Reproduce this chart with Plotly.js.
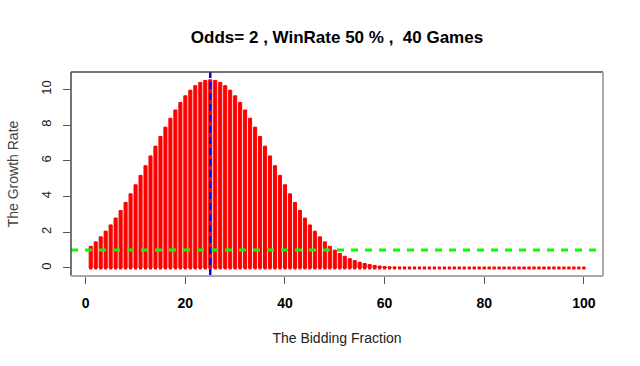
<!DOCTYPE html>
<html>
<head>
<meta charset="utf-8">
<script src="https://cdn.plot.ly/plotly-3.0.1.min.js"></script>
<style>html,body{margin:0;padding:0;background:#fff;}#chart{width:640px;height:366px;}</style>
</head>
<body>
<div id="chart"></div>
<script>
// Bidding fraction (%) values on the x axis
const fractions = [1,2,3,4,5,6,7,8,9,10,11,12,13,14,15,16,17,18,19,20,
  21,22,23,24,25,26,27,28,29,30,31,32,33,34,35,36,37,38,39,40,
  41,42,43,44,45,46,47,48,49,50,51,52,53,54,55,56,57,58,59,60,
  61,62,63,64,65,66,67,68,69,70,71,72,73,74,75,76,77,78,79,80,
  81,82,83,84,85,86,87,88,89,90,91,92,93,94,95,96,97,98,99,100];
// Growth rate
const growth = [1.2154,1.4628,1.7440,2.0601,2.4117,2.7984,3.2193,3.6721,4.1541,4.6610,
  5.1880,5.7293,6.2778,6.8264,7.3662,7.8899,8.3884,8.8524,9.2746,9.6463,
  9.9612,10.2127,10.3961,10.5075,10.5451,10.5075,10.3961,10.2127,9.9612,9.6463,
  9.2746,8.8524,8.3884,7.8899,7.3662,6.8264,6.2778,5.7293,5.1880,4.6610,
  4.1541,3.6721,3.2193,2.7984,2.4117,2.0601,1.7440,1.4628,1.2154,1.0000,
  0.8146,0.6568,0.5240,0.4134,0.3226,0.2487,0.1895,0.1426,0.1059,0.0776,
  0.0560,0.0399,0.0279,0.0193,0.0131,0.0087,0.0057,0.0036,0.0023,0.0014,
  0.0008,0.0005,0.0003,0.0002,0.0001,0,0,0,0,0,
  0,0,0,0,0,0,0,0,0,0,
  0,0,0,0,0,0,0,0,0,0];
const baseline = 1;       // green reference line
const bestFraction = 25;  // blue vertical line
const xTicks = [0,20,40,60,80,100];
const yTicks = [0,2,4,6,8,10];
const zeros = growth.map(() => 0);

const traces = [
  {
    type: 'bar', x: fractions, y: growth, width: 0.62,
    marker: {color: '#ff0000', line: {color: '#ff0000', width: 1}},
    hoverinfo: 'x+y', showlegend: false
  },
  {
    type: 'scatter', mode: 'markers', x: fractions, y: zeros,
    marker: {symbol: 'square', size: 3, color: '#ff0000', line: {width: 0}},
    hoverinfo: 'skip', showlegend: false
  }
];

const layout = {
  width: 640, height: 366,
  margin: {l: 71, r: 37, t: 72, b: 90, pad: 0},
  paper_bgcolor: '#ffffff', plot_bgcolor: '#ffffff',
  bargap: 0,
  font: {family: 'Liberation Sans, Arial, sans-serif', color: '#000'},
  title: {
    text: 'Odds= 2 , WinRate 50 % , \u00a040 Games',
    font: {size: 17, weight: 'bold', color: '#000'},
    x: 0.5, xref: 'paper', xanchor: 'center', y: 0.9, yref: 'container', yanchor: 'middle'
  },
  xaxis: {
    range: [-2.96, 103.85], tickvals: xTicks, ticktext: xTicks.map(String),
    showgrid: false, zeroline: false, showline: false,
    ticks: 'outside', ticklen: 7, tickwidth: 1, tickcolor: '#555',
    ticklabelstandoff: 7,
    tickfont: {size: 14, weight: 'bold', color: '#000'},
    title: {text: 'The Bidding Fraction', font: {size: 14, color: '#222'}, standoff: 23}
  },
  yaxis: {
    range: [-0.45, 10.98], tickvals: yTicks, ticktext: yTicks.map(String),
    showgrid: false, zeroline: false, showline: false,
    ticks: 'outside', ticklen: 7, tickwidth: 1, tickcolor: '#555',
    tickangle: -90, ticklabelstandoff: 7,
    tickfont: {size: 13, color: '#222'},
    title: {text: 'The Growth Rate', font: {size: 14, color: '#444'}, standoff: 16}
  },
  shapes: [
    {type: 'line', xref: 'paper', yref: 'y', x0: 0, x1: 1, y0: baseline, y1: baseline,
     line: {color: '#00ff00', width: 3, dash: '7px,7px'}, layer: 'above'},
    {type: 'line', xref: 'x', yref: 'paper', x0: bestFraction, x1: bestFraction, y0: 0, y1: 1,
     line: {color: '#0000ff', width: 2.5, dash: '7px,4px'}, layer: 'above'},
    {type: 'line', xref: 'paper', yref: 'paper', x0: 0, x1: 1, y0: 1, y1: 1,
     line: {color: '#444', width: 1.5}, layer: 'above'},
    {type: 'line', xref: 'paper', yref: 'paper', x0: 0, x1: 0, y0: 0, y1: 1,
     line: {color: '#444', width: 1.5}, layer: 'above'},
    {type: 'line', xref: 'paper', yref: 'paper', x0: 0, x1: 1, y0: 0, y1: 0,
     line: {color: '#aaa', width: 2}, layer: 'above'},
    {type: 'line', xref: 'paper', yref: 'paper', x0: 1, x1: 1, y0: 0, y1: 1,
     line: {color: '#aaa', width: 2}, layer: 'above'}
  ]
};

Plotly.newPlot('chart', traces, layout, {displayModeBar: false, staticPlot: true});
</script>
</body>
</html>
